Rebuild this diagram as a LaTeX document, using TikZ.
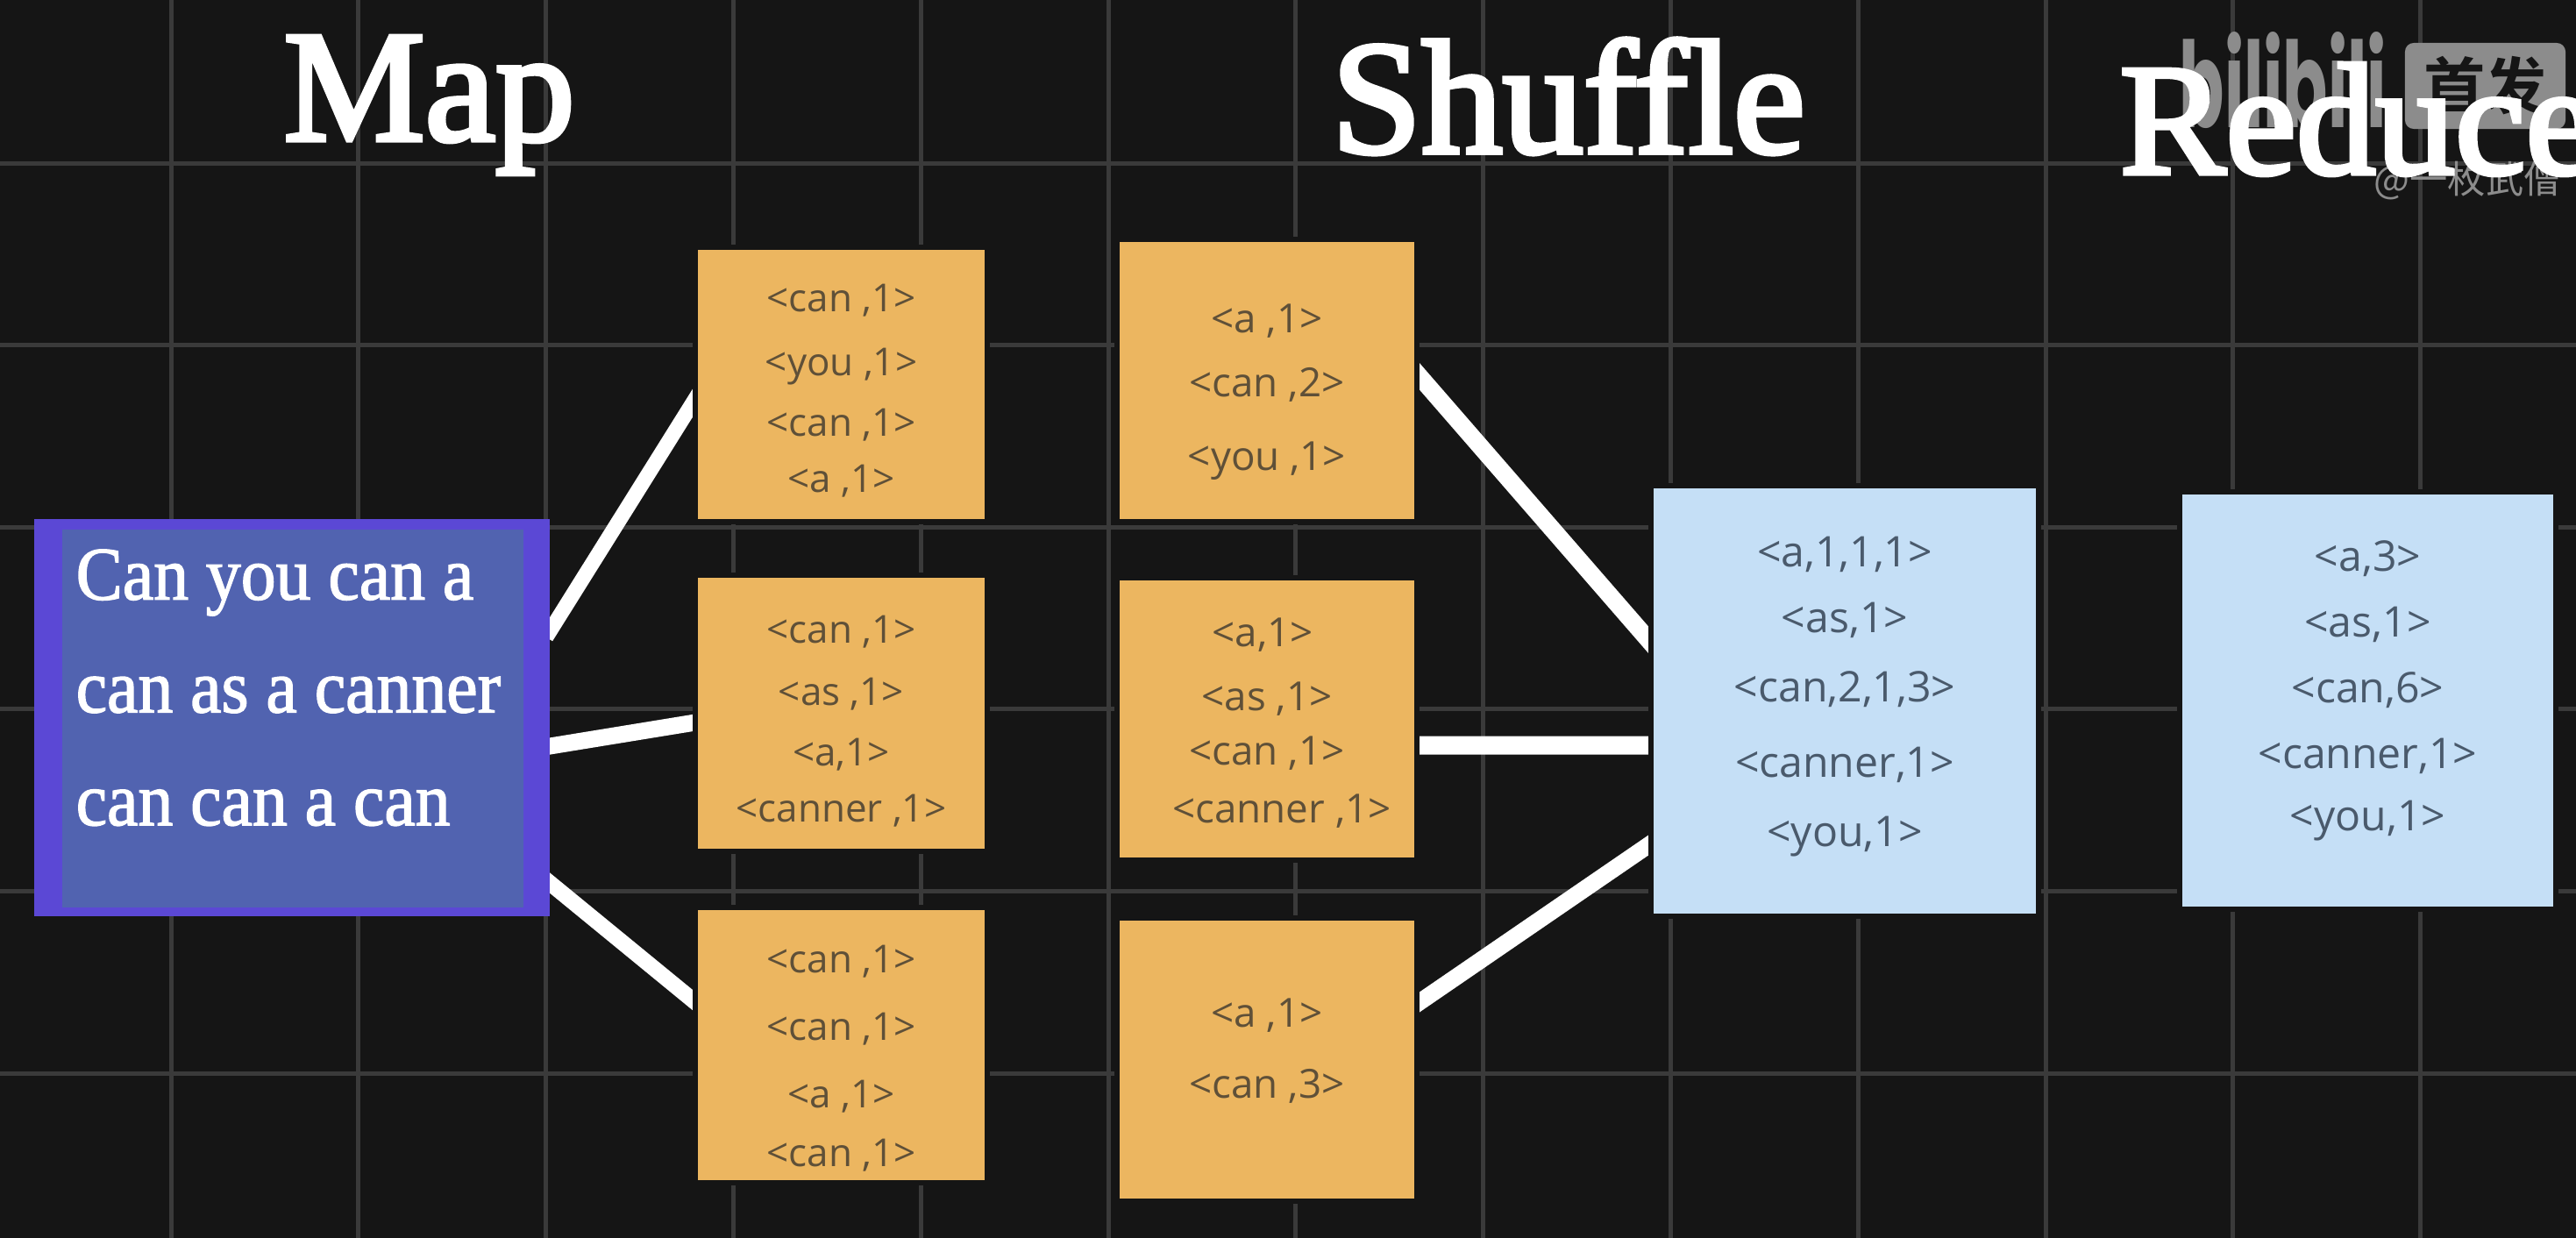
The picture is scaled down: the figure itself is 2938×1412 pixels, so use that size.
\documentclass[tikz,border=0pt]{standalone}
\usepackage{fontspec}
\usetikzlibrary{backgrounds}
\setmainfont{Liberation Serif}
\newfontfamily\headfont[FakeBold=3,Ligatures=NoCommon]{Liberation Serif}
\newfontfamily\sentfont[FakeBold=1.6,FakeStretch=0.925]{Liberation Serif}
\newfontfamily\pairfont{Open Sans}
\newfontfamily\markfont{Noto Sans CJK SC}
\newfontfamily\markbold[BoldFont=Noto Sans CJK SC Bold]{Noto Sans CJK SC}
\newfontfamily\logofont{Poppins}
\definecolor{canvas}{HTML}{151515}
\definecolor{gridline}{HTML}{3A3A3A}
\definecolor{mapfill}{HTML}{ECB660}
\definecolor{mapink}{HTML}{5F5038}
\definecolor{sumfill}{HTML}{C5DFF6}
\definecolor{sumink}{HTML}{4A5A6C}
\definecolor{inputedge}{HTML}{5B48D5}
\definecolor{inputfill}{HTML}{5163B0}
\definecolor{markgray}{HTML}{8C8C8C}
\tikzset{
  title/.style={anchor=base west, inner sep=0pt, text=white, font=\headfont\fontsize{51.5pt}{51.5pt}\selectfont},
  pairbox/.style={draw=canvas, line width=0.06cm, inner sep=0pt, outer sep=0pt},
  mapbox/.style={pairbox, fill=mapfill, minimum width=3.33cm},
  shufbox/.style={pairbox, fill=mapfill, minimum width=3.42cm, minimum height=3.22cm},
  sumbox/.style={pairbox, fill=sumfill},
  pairs/.style={align=center, inner sep=0pt},
  mappairs/.style={pairs, text=mapink, font=\pairfont\fontsize{12.5pt}{18pt}\selectfont},
  shufpairs/.style={pairs, text=mapink, font=\pairfont\fontsize{13pt}{18pt}\selectfont},
  sumpairs/.style={pairs, text=sumink, font=\pairfont\fontsize{13.7pt}{18pt}\selectfont},
  link/.style={white, line width=0.18cm, shorten >=-0.08cm, shorten <=-0.08cm},
}
\begin{document}
\begin{tikzpicture}[x=0.01cm, y=-0.01cm]
\path[use as bounding box, clip] (0,0) rectangle (2938,1412);

% --- 背景と格子の描画 ---
\begin{pgfonlayer}{background}
  \fill[canvas] (0,0) rectangle (2938,1412);
  \foreach \gx in {195,408.8,...,2800} {
    \draw[gridline, line width=0.05cm] (\gx,0) -- (\gx,1412);
  }
  \foreach \gy in {186,393.6,...,1400} {
    \draw[gridline, line width=0.05cm] (0,\gy) -- (2938,\gy);
  }
\end{pgfonlayer}

% --- 透かしの描画 ---
\node [text=markgray, anchor=base west, yscale=1.8, inner sep=0pt, font=\logofont\bfseries\fontsize{21.5pt}{21.5pt}\selectfont] (logo) at (2485,145) {bilibili};
\node [fill=markgray, rounded corners=0.1cm, minimum width=1.83cm, minimum height=0.98cm, inner sep=0pt] (badge) at (2834.5,98) {};
\node [text=canvas, inner sep=0pt, font=\markbold\bfseries\fontsize{20pt}{20pt}\selectfont] (badgetext) at (badge.center) {首发};
\node [text=markgray, anchor=base west, inner sep=0pt, font=\markfont\fontsize{12.3pt}{12.3pt}\selectfont] (author) at (2707,220) {@一枚武僧};

% --- 見出しの描画 ---
\node [title] (map) at (323,160) {Map};
\node [title, font=\headfont\fontsize{52.5pt}{52.5pt}\selectfont] (shuffle) at (1518,174) {Shuffle};
\node [title] (reduce) at (2417,198) {Reduce};

% --- 入力の箱 ---
\node [fill=inputedge, minimum width=5.88cm, minimum height=4.53cm, inner sep=0pt, outer sep=0pt] (inp) at (333,818.5) {};
\node [fill=inputfill, minimum width=5.26cm, minimum height=4.31cm, inner sep=0pt] (inpfill) at (334,819.5) {};
\node [anchor=north west, align=left, inner sep=0pt, text=white, font=\sentfont\fontsize{24.5pt}{36.6pt}\selectfont] (sentence) at (86,626) {Can you can a\\can as a canner\\can can a can};

% --- Map の箱 ---
\node [mapbox, minimum height=3.13cm] (mone) at (959.5,438.5) {};
\node [mapbox, minimum height=3.15cm] (mtwo) at (959.5,813.5) {};
\node [mapbox, minimum height=3.14cm] (mthree) at (959.5,1192) {};
\node [mappairs] (monetext) at ([yshift=-0.07cm]mone.center) {<can ,1>\\[2.8pt]<you ,1>\\[1.6pt]<can ,1>\\[0.2pt]<a ,1>};
\node [mappairs] (mtwotext) at ([yshift=-0.09cm]mtwo.center) {<can ,1>\\[2.2pt]<as ,1>\\[1.7pt]<a,1>\\[0.2pt]<canner ,1>};
\node [mappairs] (mthreetext) at ([yshift=-0.15cm]mthree.center) {<can ,1>\\[3.9pt]<can ,1>\\[3.9pt]<a ,1>\\[1.2pt]<can ,1>};

% --- Shuffle の箱 ---
\node [shufbox] (sone) at (1445,434) {};
\node [shufbox] (stwo) at (1445,820) {};
\node [shufbox] (sthree) at (1445,1208.5) {};
\node [shufpairs] (sonetext) at ([yshift=-0.13cm]sone.center) {<a ,1>\\[2.8pt]<can ,2>\\[6pt]<you ,1>};
\node [shufpairs] (stwotext) at ([yshift=-0.05cm]stwo.center) {\hspace*{-0.1cm}<a,1>\\[2.8pt]<as ,1>\\[-0.4pt]<can ,1>\\[0.8pt]\hspace*{0.34cm}<canner ,1>};
\node [shufpairs] (sthreetext) at ([yshift=0.1cm]sthree.center) {<a ,1>\\[5pt]<can ,3>};

% --- Reduce の箱 ---
\node [sumbox, minimum width=4.42cm, minimum height=4.91cm] (rone) at (2104,799.5) {};
\node [sumbox, minimum width=4.29cm, minimum height=4.76cm] (rtwo) at (2700.5,799) {};
\node [sumpairs] (ronetext) at ([yshift=0.05cm]rone.center) {<a,1,1,1>\\[3.3pt]<as,1>\\[4.4pt]<can,2,1,3>\\[6.5pt]<canner,1>\\[4.4pt]<you,1>};
\node [sumpairs] (rtwotext) at ([yshift=0.11cm]rtwo.center) {<a,3>\\[3.3pt]<as,1>\\[3.3pt]<can,6>\\[3.3pt]<canner,1>\\[2.2pt]<you,1>};

% --- 箱をつなぐ線 ---
\begin{pgfonlayer}{background}
  \draw [link, line width=0.17cm] ([yshift=0.985cm]inp.east) -- ([yshift=-0.165cm]mone.west);
  \draw [link, line width=0.19cm] ([yshift=-0.325cm]inp.east) -- ([yshift=-0.105cm]mtwo.west);
  \draw [link] ([yshift=-1.885cm]inp.east) -- ([yshift=0.49cm]mthree.west);
  \draw [link, line width=0.2cm] ([yshift=0.08cm]sone.east) -- ([yshift=0.665cm]rone.west);
  \draw [link, line width=0.21cm] ([yshift=-0.3cm]stwo.east) -- ([yshift=-0.505cm]rone.west);
  \draw [link, line width=0.19cm] ([yshift=0.635cm]sthree.east) -- ([yshift=-1.625cm]rone.west);
\end{pgfonlayer}
\end{tikzpicture}
\end{document}
